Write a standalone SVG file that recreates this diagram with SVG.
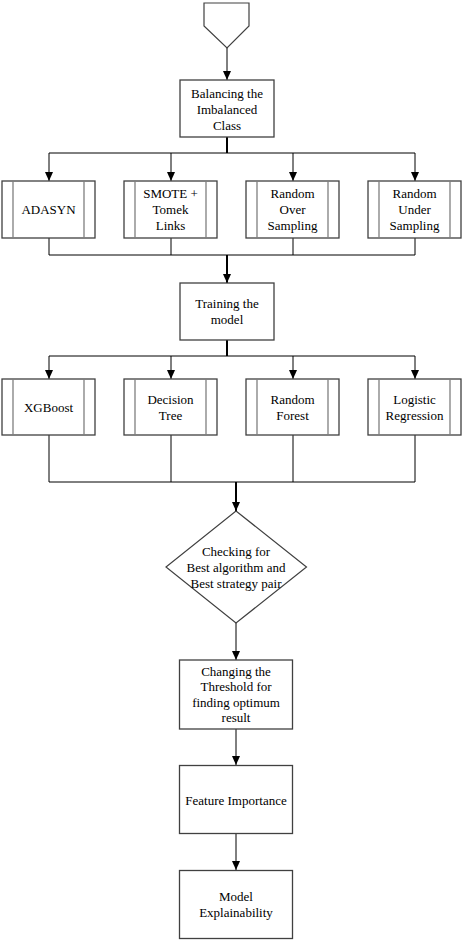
<svg xmlns="http://www.w3.org/2000/svg" width="463" height="942" viewBox="0 0 463 942" font-family="'Liberation Serif', 'Times New Roman', serif">
<style>
.box{fill:#fff;stroke:#404040;stroke-width:1.3}
.inner{stroke:#7f7f7f;stroke-width:1.3}
.ln{fill:none;stroke:#000;stroke-width:1}
.thick{fill:none;stroke:#000;stroke-width:2}
text{font-size:13px;fill:#000;text-anchor:middle;dominant-baseline:central}
</style>
<defs>
<marker id="ah" markerWidth="10" markerHeight="10" refX="9" refY="5" orient="auto" markerUnits="userSpaceOnUse">
<path d="M0,1 L9,5 L0,9 Z" fill="#000"/>
</marker>
</defs>
<rect width="463" height="942" fill="#fff"/>
<g id="connectors">
<path class="ln" d="M227,48 V80" marker-end="url(#ah)"/>
<path class="thick" d="M227,137 V153"/>
<path class="ln" d="M49,153 H415"/>
<path class="ln" d="M49,153 V181" marker-end="url(#ah)"/>
<path class="ln" d="M171,153 V181" marker-end="url(#ah)"/>
<path class="ln" d="M293,153 V181" marker-end="url(#ah)"/>
<path class="ln" d="M415,153 V181" marker-end="url(#ah)"/>
<path class="ln" d="M49,238 V255 H415 V238 M171,238 V255 M293,238 V255"/>
<path class="thick" d="M227,255 V283" marker-end="url(#ah)"/>
<path class="thick" d="M227,340 V356"/>
<path class="ln" d="M49,356 H415"/>
<path class="ln" d="M49,356 V379" marker-end="url(#ah)"/>
<path class="ln" d="M171,356 V379" marker-end="url(#ah)"/>
<path class="ln" d="M293,356 V379" marker-end="url(#ah)"/>
<path class="ln" d="M415,356 V379" marker-end="url(#ah)"/>
<path class="ln" d="M49,435 V482 H415 V435 M171,435 V482 M293,435 V482"/>
<path class="thick" d="M236,482 V511" marker-end="url(#ah)"/>
<path class="ln" d="M236,623 V660" marker-end="url(#ah)"/>
<path class="ln" d="M236,729 V765" marker-end="url(#ah)"/>
<path class="ln" d="M236,833 V870" marker-end="url(#ah)"/>
</g>
<g id="start">
<path d="M204,3 H249 V26 L227,48 L204,26 Z" fill="#fff" stroke="#404040" stroke-width="1.2"/>
</g>
<g id="balancing">
<rect class="box" x="180" y="80" width="94" height="57"/>
<text x="227" y="93">Balancing the</text>
<text x="227" y="109">Imbalanced</text>
<text x="227" y="125">Class</text>
</g>
<g id="adasyn">
<rect class="box" x="2" y="181" width="93" height="57"/>
<line class="inner" x1="13" y1="181" x2="13" y2="238"/>
<line class="inner" x1="84" y1="181" x2="84" y2="238"/>
<text x="48.5" y="209">ADASYN</text>
</g>
<g id="smote">
<rect class="box" x="124" y="181" width="93" height="57"/>
<line class="inner" x1="135" y1="181" x2="135" y2="238"/>
<line class="inner" x1="206" y1="181" x2="206" y2="238"/>
<text x="170.5" y="193">SMOTE +</text>
<text x="170.5" y="209">Tomek</text>
<text x="170.5" y="225">Links</text>
</g>
<g id="ros">
<rect class="box" x="246" y="181" width="93" height="57"/>
<line class="inner" x1="257" y1="181" x2="257" y2="238"/>
<line class="inner" x1="328" y1="181" x2="328" y2="238"/>
<text x="292.5" y="193">Random</text>
<text x="292.5" y="209">Over</text>
<text x="292.5" y="225">Sampling</text>
</g>
<g id="rus">
<rect class="box" x="368" y="181" width="93" height="57"/>
<line class="inner" x1="379" y1="181" x2="379" y2="238"/>
<line class="inner" x1="450" y1="181" x2="450" y2="238"/>
<text x="414.5" y="193">Random</text>
<text x="414.5" y="209">Under</text>
<text x="414.5" y="225">Sampling</text>
</g>
<g id="training">
<rect class="box" x="180" y="283" width="94" height="57"/>
<text x="227" y="303">Training the</text>
<text x="227" y="319">model</text>
</g>
<g id="xgboost">
<rect class="box" x="2" y="379" width="93" height="56"/>
<line class="inner" x1="13" y1="379" x2="13" y2="435"/>
<line class="inner" x1="84" y1="379" x2="84" y2="435"/>
<text x="48.5" y="407">XGBoost</text>
</g>
<g id="dtree">
<rect class="box" x="124" y="379" width="93" height="56"/>
<line class="inner" x1="135" y1="379" x2="135" y2="435"/>
<line class="inner" x1="206" y1="379" x2="206" y2="435"/>
<text x="170.5" y="399">Decision</text>
<text x="170.5" y="415">Tree</text>
</g>
<g id="rforest">
<rect class="box" x="246" y="379" width="93" height="56"/>
<line class="inner" x1="257" y1="379" x2="257" y2="435"/>
<line class="inner" x1="328" y1="379" x2="328" y2="435"/>
<text x="292.5" y="399">Random</text>
<text x="292.5" y="415">Forest</text>
</g>
<g id="logreg">
<rect class="box" x="368" y="379" width="93" height="56"/>
<line class="inner" x1="379" y1="379" x2="379" y2="435"/>
<line class="inner" x1="450" y1="379" x2="450" y2="435"/>
<text x="414.5" y="399">Logistic</text>
<text x="414.5" y="415">Regression</text>
</g>
<g id="checking">
<path d="M236,511 L306.5,567 L236,623 L166,567 Z" fill="#fff" stroke="#404040" stroke-width="1.2"/>
<text x="236" y="551">Checking for</text>
<text x="236" y="567">Best algorithm and</text>
<text x="236" y="583">Best strategy pair</text>
</g>
<g id="threshold">
<rect class="box" x="179.5" y="660" width="113" height="69"/>
<text x="236" y="671">Changing the</text>
<text x="236" y="686">Threshold for</text>
<text x="236" y="702">finding optimum</text>
<text x="236" y="717.5">result</text>
</g>
<g id="feature">
<rect class="box" x="179.5" y="765.5" width="113" height="68"/>
<text x="236" y="800">Feature Importance</text>
</g>
<g id="explain">
<rect class="box" x="179.5" y="870.5" width="113" height="68"/>
<text x="236" y="896">Model</text>
<text x="236" y="912.5">Explainability</text>
</g>
</svg>
